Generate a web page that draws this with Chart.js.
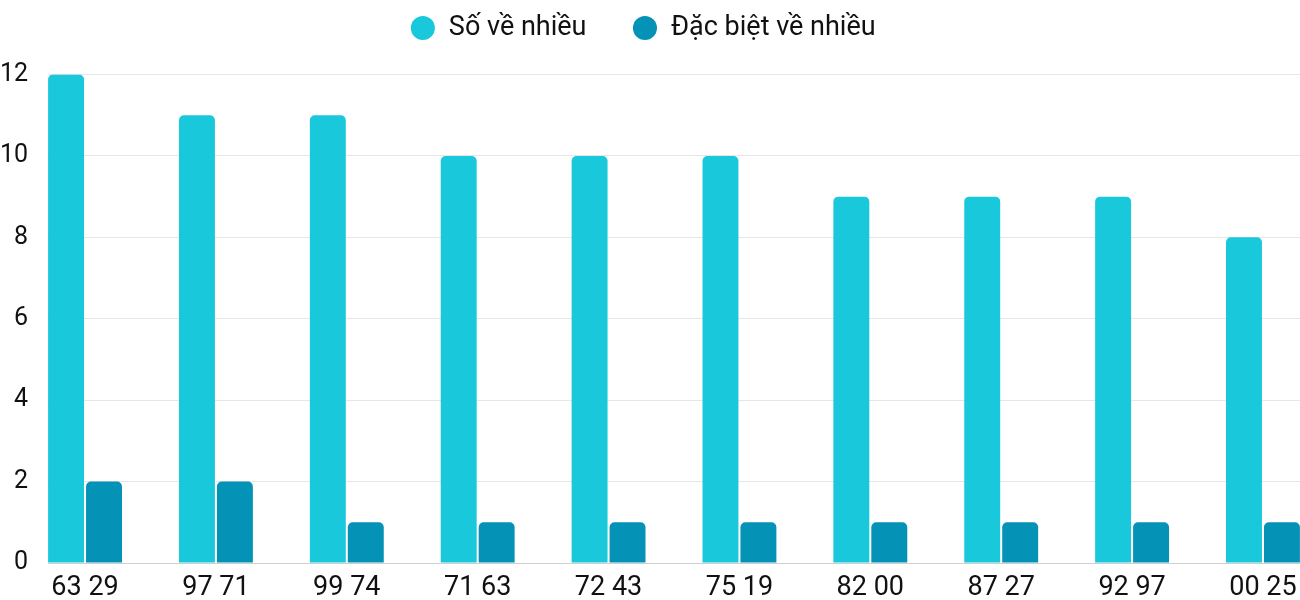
<!DOCTYPE html>
<html lang="vi">
<head>
<meta charset="UTF-8">
<title>Số về nhiều</title>
<script src="https://cdn.jsdelivr.net/npm/chart.js"></script>
<style>
html, body { margin: 0; padding: 0; background: #fff; overflow: hidden; }
.wrap { width: 1300px; height: 600px; position: relative; }
</style>
</head>
<body>
<div class="wrap"><canvas id="chart"></canvas></div>
<script>
// dữ liệu
const capSo = ['63 29', '97 71', '99 74', '71 63', '72 43', '75 19', '82 00', '87 27', '92 97', '00 25'];
const soVeNhieu = [12, 11, 11, 10, 10, 10, 9, 9, 9, 8];
const dacBietVeNhieu = [2, 2, 1, 1, 1, 1, 1, 1, 1, 1];
const yTicks = [0, 2, 4, 6, 8, 10, 12];

const toPoints = arr => arr.map((v, i) => ({ x: i, y: v }));

// thêm khoảng trống dưới legend
const legendGap = {
	id: 'legendGap',
	beforeInit(chart) {
		const fit = chart.legend.fit;
		chart.legend.fit = function () { fit.call(this); this.height += 23; };
	}
};

new Chart(document.getElementById('chart'), {
	type: 'bar',
	data: {
		datasets: [
			{ label: 'Số về nhiều', data: toPoints(soVeNhieu), backgroundColor: '#1ac8db', borderRadius: 5 },
			{ label: 'Đặc biệt về nhiều', data: toPoints(dacBietVeNhieu), backgroundColor: '#0492b6', borderRadius: 5 }
		]
	},
	plugins: [legendGap],
	options: {
		responsive: true,
		maintainAspectRatio: false,
		animation: false,
		datasets: { bar: { categoryPercentage: 0.58, barPercentage: 0.947 } },
		// legend padding is wide for the item gap, so pull the top up
		layout: { padding: { top: -31.5, right: 0, left: -14, bottom: 0 } },
		plugins: {
			tooltip: { enabled: false },
			legend: {
				position: 'top',
				labels: {
					usePointStyle: true, pointStyle: 'circle', boxWidth: 25, boxHeight: 17,
					padding: 46, color: '#111',
					font: { family: 'Roboto', size: 27 }
				}
			}
		},
		scales: {
			x: {
				type: 'linear',
				offset: false,
				min: -0.283, max: 9.283,
				grid: { display: false, drawTicks: false }, border: { display: false },
				afterBuildTicks: s => { s.ticks = capSo.map((_, i) => ({ value: i })); },
				afterFit: s => { s.height = 37; s.paddingLeft = 0; s.paddingRight = 0; },
				ticks: {
					autoSkip: false, maxRotation: 0, padding: 12, color: '#111',
					font: { family: 'Roboto', size: 27, lineHeight: 1.0 },
					callback: v => capSo[v]
				}
			},
			y: {
				min: 0, max: 12,
				afterBuildTicks: s => { s.ticks = yTicks.map(v => ({ value: v })); },
				afterFit: s => { s.width = 62; s.paddingBottom = 0; },
				grid: { drawTicks: false, color: c => c.tick && c.tick.value === 0 ? '#cfcfcf' : '#e6e6e6' },
				border: { display: false },
				ticks: { padding: 20, color: '#111', font: { family: 'Roboto', size: 25 } }
			}
		}
	}
});
</script>
</body>
</html>
